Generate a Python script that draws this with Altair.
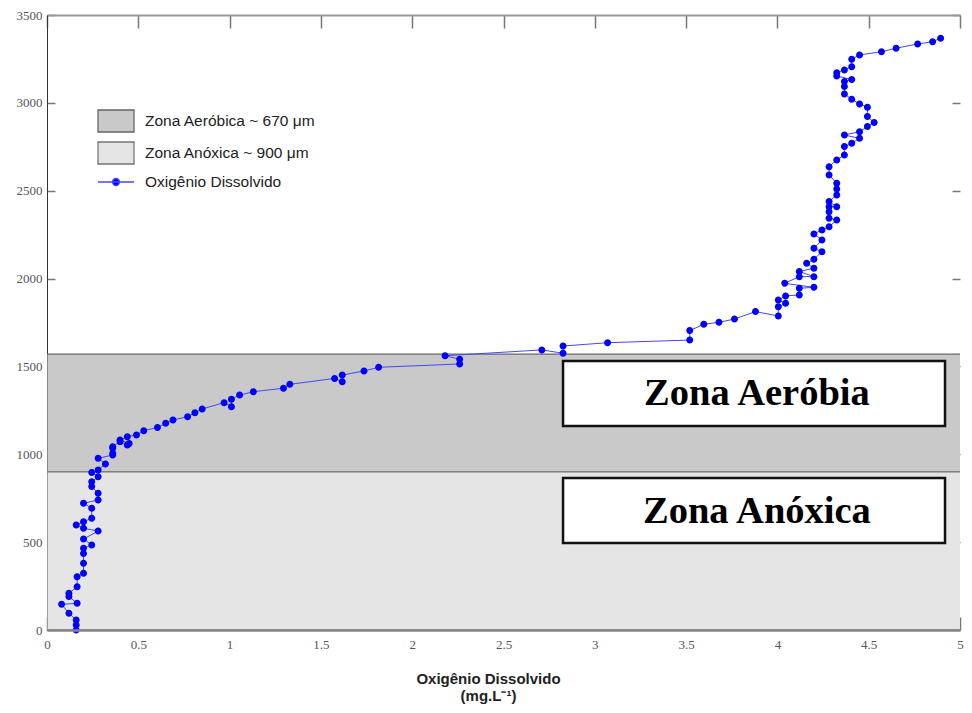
import altair as alt
import pandas as pd

# ---------------- data ----------------
od_mg_l = [
    0.16, 0.16, 0.16, 0.12, 0.08, 0.165, 0.12, 0.12, 0.165, 0.165,
    0.2, 0.2, 0.2, 0.2, 0.245, 0.2, 0.28, 0.2, 0.16, 0.2,
    0.245, 0.245, 0.2, 0.28, 0.28, 0.245, 0.245, 0.28, 0.245, 0.28,
    0.32, 0.28, 0.36, 0.36, 0.36, 0.36, 0.40, 0.44, 0.45, 0.40,
    0.44, 0.49, 0.53, 0.605, 0.65, 0.69, 0.77, 0.81, 0.85, 0.97,
    1.01, 1.01, 1.055, 1.13, 1.295, 1.33, 1.575, 1.617, 1.617, 1.736,
    1.816, 2.26, 2.26, 2.18, 2.71, 2.826, 2.826, 3.07, 3.52, 3.52,
    3.597, 3.68, 3.765, 3.88, 4.005, 4.005, 4.045, 4.005, 4.045, 4.12,
    4.12, 4.20, 4.04, 4.12, 4.20, 4.12, 4.20, 4.16, 4.20, 4.244,
    4.20, 4.244, 4.20, 4.244, 4.283, 4.325, 4.283, 4.283, 4.283, 4.325,
    4.283, 4.325, 4.325, 4.325, 4.283, 4.283, 4.325, 4.367, 4.367, 4.407,
    4.45, 4.367, 4.45, 4.493, 4.53, 4.493, 4.493, 4.45, 4.407, 4.367,
    4.367, 4.367, 4.407, 4.325, 4.325, 4.367, 4.407, 4.407, 4.45, 4.57,
    4.65, 4.768, 4.85, 4.894,
]
distancia_um = [
    0, 28, 57, 95, 146, 152, 190, 209, 246, 303,
    323, 380, 436, 465, 484, 518, 563, 579, 598, 616,
    636, 693, 721, 740, 778, 816, 844, 872, 897, 911,
    945, 977, 996, 1006, 1034, 1043, 1072, 1053, 1062, 1081,
    1100, 1110, 1134, 1153, 1176, 1195, 1214, 1237, 1258, 1294,
    1271, 1313, 1337, 1356, 1376, 1398, 1432, 1413, 1451, 1474,
    1495, 1514, 1541, 1561, 1594, 1575, 1616, 1635, 1650, 1704,
    1740, 1751, 1770, 1812, 1787, 1840, 1859, 1878, 1901, 1907,
    1945, 1950, 1973, 2011, 2011, 2040, 2059, 2087, 2110, 2153,
    2172, 2220, 2254, 2277, 2295, 2333, 2343, 2380, 2409, 2409,
    2438, 2476, 2510, 2542, 2590, 2637, 2675, 2703, 2751, 2770,
    2798, 2817, 2836, 2865, 2888, 2922, 2975, 2994, 3020, 3051,
    3093, 3121, 3133, 3153, 3172, 3187, 3206, 3248, 3273, 3291,
    3311, 3335, 3348, 3368,
]
assert len(od_mg_l) == len(distancia_um)
ordem = list(range(len(od_mg_l)))

serie_nomes = ["Zona Aeróbica ~ 670 μm", "Zona Anóxica ~ 900 μm", "Oxigênio Dissolvido"]
zona_inicio = [900, 0]
zona_fim = [1570, 900]
x_ticks = [0, 0.5, 1, 1.5, 2, 2.5, 3, 3.5, 4, 4.5, 5]
y_ticks = [0, 500, 1000, 1500, 2000, 2500, 3000, 3500]
caixa_rotulos = ["Zona Aeróbia", "Zona Anóxica"]

# ---------------- annotation layout (data units) ----------------
caixa_x0, caixa_x1, caixa_tx = 2.826, 4.918, 3.888
caixa_y0 = [1161, 495]
caixa_y1 = [1531, 865]
caixa_ty = [1346, 680]
zona_x_fim = 5.1  # zones run past the right edge (clipped)

df_od = pd.DataFrame({"od": od_mg_l, "dist": distancia_um, "ordem": ordem,
                      "serie": serie_nomes[2]})
df_zonas = pd.DataFrame({"serie": serie_nomes[:2], "y0": zona_inicio, "y1": zona_fim})
df_caixas = pd.DataFrame({"rotulo": caixa_rotulos, "y0": caixa_y0, "y1": caixa_y1,
                          "ty": caixa_ty})

W, H = 913, 615

# ---------------- scales ----------------
xscale = alt.Scale(domain=[0, 5], nice=False, zero=False)
yscale = alt.Scale(domain=[0, 3500], nice=False)
RECT_PATH = "M-1.8,-1.1H1.8V1.1H-1.8Z"
LINE_PATH = "M-1.8,0H1.8M-0.35,0A0.35,0.35,0,1,0,0.35,0A0.35,0.35,0,1,0,-0.35,0"
color_scale = alt.Scale(domain=serie_nomes, range=["#c9c9c9", "#e5e5e5", "#0000ff"])
stroke_scale = alt.Scale(domain=serie_nomes, range=["#666666", "#777777", "#4646ff"])
dash_scale = alt.Scale(domain=serie_nomes, range=[[6, 3, 1.5, 3], [2, 2], [1, 0]])
shape_scale = alt.Scale(domain=serie_nomes, range=[RECT_PATH, RECT_PATH, LINE_PATH])

SANS = "Liberation Sans"
SERIF = "Liberation Serif"
leg = alt.Legend(title=None, orient="none", legendX=58, legendY=95, padding=0,
                 symbolSize=400, symbolStrokeWidth=1.3, symbolOpacity=1,
                 labelFont=SANS, labelFontSize=15.5, labelColor="#222", labelLimit=0,
                 labelOffset=18, rowPadding=4)

x_bottom = alt.Axis(orient="bottom", values=x_ticks, format="~g", ticks=False,
                    grid=False, labelFont=SERIF, labelFontSize=13, labelColor="#555",
                    labelPadding=8, labelFlush=False, domainColor="#888",
                    domainWidth=2.5, zindex=1,
                    title=["Oxigênio Dissolvido", "(mg.L⁻¹)"], titleFont=SANS,
                    titleFontSize=15, titleFontWeight="bold", titleColor="#222",
                    titlePadding=20, titleLineHeight=17, titleX=441)
# left axis: labels + line; its grid, dashed, gives the short inward ticks
y_left = alt.Axis(orient="left", values=y_ticks, format="d", ticks=False,
                  labelFont=SERIF, labelFontSize=13, labelColor="#555",
                  labelPadding=5, labelFlush=False, domainColor="#333",
                  domainWidth=1, zindex=0, title=None,
                  grid=True, gridColor="#777", gridWidth=1.5,
                  gridDash=[8, W - 16, 8, 3000])
# top axis: line + inward ticks made by a dashed grid
x_top = alt.Axis(orient="top", values=x_ticks, ticks=False, labels=False,
                 domainColor="#999", domainWidth=2, title=None, zindex=0,
                 grid=True, gridColor="#777", gridWidth=1.5,
                 gridDash=[13, H - 26, 13, 3000])

zonas = alt.Chart(df_zonas).mark_rect(strokeWidth=1.3, clip=True).encode(
    x=alt.XDatum(0, scale=xscale, axis=x_bottom),
    x2=alt.X2Datum(zona_x_fim),
    y=alt.Y("y0:Q", scale=yscale, axis=y_left),
    y2="y1:Q",
    color=alt.Color("serie:N", scale=color_scale, legend=leg),
    stroke=alt.Stroke("serie:N", scale=stroke_scale, legend=leg),
    strokeDash=alt.StrokeDash("serie:N", scale=dash_scale, legend=leg),
)

caixas = alt.Chart(df_caixas).mark_rect(fill="white", stroke="#111", strokeWidth=2.5).encode(
    x=alt.XDatum(caixa_x0, scale=xscale, axis=None),
    x2=alt.X2Datum(caixa_x1),
    y=alt.Y("y0:Q", scale=yscale, axis=None),
    y2="y1:Q",
)

textos = alt.Chart(df_caixas).mark_text(font=SERIF, fontSize=38.5, fontWeight="bold",
                                         color="black", baseline="middle").encode(
    x=alt.XDatum(caixa_tx, scale=xscale, axis=None),
    y=alt.Y("ty:Q", scale=yscale, axis=None),
    text="rotulo:N",
)

linha = alt.Chart(df_od).mark_line(strokeWidth=1).encode(
    x=alt.X("od:Q", scale=xscale, axis=x_top),
    y=alt.Y("dist:Q", scale=yscale, axis=None),
    order="ordem:Q",
    stroke=alt.Stroke("serie:N", scale=stroke_scale, legend=leg),
)

pontos = alt.Chart(df_od).mark_point(filled=True, size=400, opacity=1, strokeWidth=0).encode(
    x=alt.X("od:Q", scale=xscale, axis=None),
    y=alt.Y("dist:Q", scale=yscale, axis=None),
    color=alt.Color("serie:N", scale=color_scale, legend=leg),
    shape=alt.Shape("serie:N", scale=shape_scale, legend=leg),
)

chart = alt.layer(zonas, caixas, textos, linha, pontos).resolve_axis(
    x="independent", y="independent"
).properties(
    width=W, height=H,
    autosize=alt.AutoSizeParams(type="none"),
    padding={"left": 39, "top": 7, "right": 4, "bottom": 74},
    background="white",
).configure_view(stroke=None)

chart.save("out.html", embed_options={"renderer": "svg", "actions": False})
